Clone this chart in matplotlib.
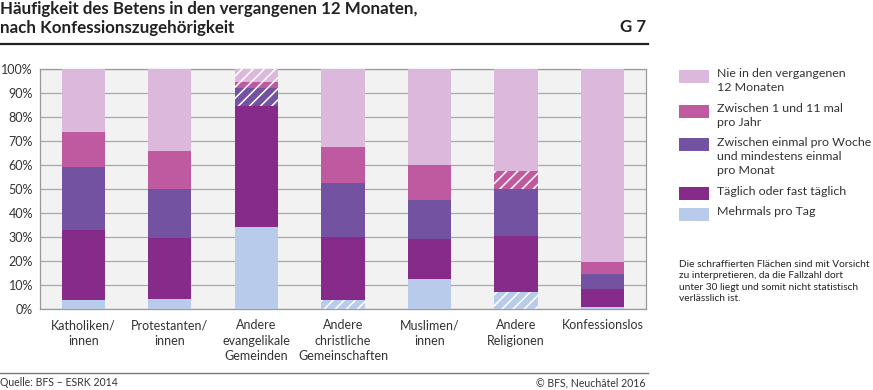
import numpy as np
import matplotlib
matplotlib.use('Agg')
import matplotlib.pyplot as plt
from matplotlib.patches import Rectangle
from matplotlib.lines import Line2D

plt.rcParams['font.family'] = ['Lato', 'DejaVu Sans']
plt.rcParams['hatch.linewidth'] = 1.1

# Kategorien und Werte (in %), von unten nach oben gestapelt
kategorien = ['Katholiken/\ninnen', 'Protestanten/\ninnen', 'Andere\nevangelikale\nGemeinden',
              'Andere\nchristliche\nGemeinschaften', 'Muslimen/\ninnen', 'Andere\nReligionen',
              'Konfessionslos']
mehrmals = [3.9, 4.2, 34.4, 3.9, 12.5, 7.1, 0.8]
taeglich = [29.2, 25.7, 50.5, 26.1, 16.8, 23.5, 7.5]
woche = [26.1, 20.1, 7.2, 22.8, 16.1, 19.7, 6.3]
jahr = [14.6, 16.0, 2.5, 15.0, 14.6, 7.5, 5.3]
nie = [26.2, 34.0, 5.4, 32.2, 40.0, 42.2, 80.1]

# schraffiert = Fallzahl unter 30
mehrmals_schr = [False, False, False, True, False, True, False]
taeglich_schr = [False] * 7
woche_schr = [False, False, True, False, False, False, False]
jahr_schr = [False, False, True, False, False, True, False]
nie_schr = [False, False, True, False, False, False, False]

serien = [
    ('Mehrmals pro Tag', mehrmals, mehrmals_schr, '#b9cbea'),
    ('Täglich oder fast täglich', taeglich, taeglich_schr, '#872b8b'),
    ('Zwischen einmal pro Woche\nund mindestens einmal\npro Monat', woche, woche_schr, '#7352a1'),
    ('Zwischen 1 und 11 mal\npro Jahr', jahr, jahr_schr, '#c05aa0'),
    ('Nie in den vergangenen\n12 Monaten', nie, nie_schr, '#dcb9dc'),
]

fig = plt.figure(figsize=(8.73, 3.9), dpi=100)
ax = fig.add_axes([40 / 873, 1 - 309.3 / 390, 606 / 873, 240 / 390])
ax.set_facecolor('#f2f2f2')

x = np.arange(len(kategorien))
unten = np.zeros(len(kategorien))
for name, werte, schr, farbe in serien:
    werte = np.array(werte)
    for i in range(len(x)):
        if schr[i]:
            ax.bar(x[i], werte[i], 0.5, bottom=unten[i], color=farbe, edgecolor='white',
                   linewidth=0, hatch='///', zorder=3)
        else:
            ax.bar(x[i], werte[i], 0.5, bottom=unten[i], color=farbe, linewidth=0, zorder=3)
    unten += werte

ax.set_xlim(-0.5, len(kategorien) - 0.5)
ax.set_ylim(0, 100)
ax.set_yticks(np.arange(0, 101, 10))
ax.set_yticklabels([f'{v}%' for v in range(0, 101, 10)])
ax.yaxis.grid(True, color='#a8a8a8', linewidth=0.9, zorder=1)
ax.set_axisbelow(True)
ax.set_xticks(x)
ax.set_xticklabels(kategorien, linespacing=1.35)
ax.tick_params(axis='both', length=0, labelsize=9, colors='#333333')
ax.tick_params(axis='x', pad=7)
ax.tick_params(axis='y', pad=5)
for s in ax.spines.values():
    s.set_color('#9a9a9a')
    s.set_linewidth(0.9)

# Titel
fig.text(0, 1 - 1 / 390, 'Häufigkeit des Betens in den vergangenen 12 Monaten,\nnach Konfessionszugehörigkeit',
         fontsize=12.2, fontweight='bold', va='top', ha='left', color='#222222', linespacing=1.25)
fig.text(646 / 873, 1 - 19 / 390, 'G 7', fontsize=12.2, fontweight='bold', va='top', ha='right',
         color='#222222')
fig.add_artist(Line2D([0, 648 / 873], [1 - 44 / 390, 1 - 44 / 390], color='#222222', linewidth=1.6))

# Fusszeile
fig.add_artist(Line2D([0, 648 / 873], [1 - 373 / 390, 1 - 373 / 390], color='#777777', linewidth=1.0))
fig.text(0, 1 - 383 / 390, 'Quelle: BFS – ESRK 2014', fontsize=7.6, va='center', ha='left', color='#333333')
fig.text(646 / 873, 1 - 383 / 390, '© BFS, Neuchâtel 2016', fontsize=7.6, va='center', ha='right',
         color='#333333')

# Legende (von oben nach unten)
legende_y = [76, 111, 145, 194, 214]
for (name, werte, schr, farbe), ly in zip(serien[::-1], legende_y):
    fig.add_artist(Rectangle((679 / 873, 1 - (ly + 6.5) / 390), 30 / 873, 13 / 390,
                             facecolor=farbe, linewidth=0, transform=fig.transFigure))
    fig.text(717 / 873, 1 - (ly - 8) / 390, name, fontsize=8.9, va='top', ha='left',
             color='#333333', linespacing=1.35)

fig.text(679 / 873, 1 - 260 / 390,
         'Die schraffierten Flächen sind mit Vorsicht\nzu interpretieren, da die Fallzahl dort\n'
         'unter 30 liegt und somit nicht statistisch\nverlässlich ist.',
         fontsize=7.3, va='top', ha='left', color='#222222', linespacing=1.35)

fig.savefig('out.png', dpi=100, facecolor='white')
